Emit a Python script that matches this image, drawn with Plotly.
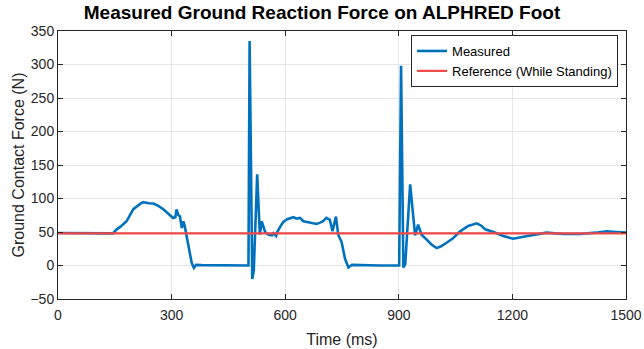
import plotly.graph_objects as go

time_ms = [0, 50, 100, 145, 155, 165, 181, 199, 217, 225, 240, 252, 265, 278, 290, 304,
           310, 313, 318, 322, 327, 331, 335, 340, 353, 359, 365, 380, 450, 503,
           506, 513, 517, 526, 533, 538, 547, 556, 565, 569, 576, 579, 587, 595, 605,
           613, 622, 630, 639, 648, 657, 665, 675, 683, 692, 700, 709, 718, 725, 734,
           740, 749, 758, 767, 776, 800, 850, 901, 906, 912, 917, 930, 943, 951, 960,
           973, 987, 1000, 1013, 1026, 1044, 1062, 1083, 1106, 1119, 1128, 1150, 1176,
           1202, 1229, 1264, 1290, 1334, 1378, 1420, 1449, 1475, 1500]
force_n = [48.5, 48, 47.5, 48, 54, 58, 66, 84, 92, 94.5, 93, 92.5, 89, 84, 78, 71,
           72, 83.6, 75, 73.6, 56, 66, 58, 44, 4, -3.5, 1, 0.5, 0, 0,
           335, -20, -8, 136, 46, 66, 50, 46, 45, 48, 44, 50, 58, 65, 69,
           70, 72, 70, 71, 66, 65, 64, 63, 62, 64, 66, 71, 68, 51, 73,
           46, 35, 10, -3, 1, 0.5, 0, 0, 298, -3, 2, 121, 45, 61, 46,
           39, 31, 26, 29, 34, 41, 51, 59, 63, 59, 54, 50, 44,
           40, 43, 46, 49, 47, 47, 49, 51, 50, 49]
reference_time = [0, 1500]
reference_force = [48, 48]

FONT = "Liberation Sans, Arial, sans-serif"

fig = go.Figure()
fig.add_trace(go.Scatter(x=time_ms, y=force_n, mode="lines", name="Measured",
                         line=dict(color="#0072BD", width=2.6)))
fig.add_trace(go.Scatter(x=reference_time, y=reference_force, mode="lines",
                         name="Reference (While Standing)",
                         line=dict(color="#F04848", width=2.2)))

axis_common = dict(showline=True, linecolor="#262626", linewidth=1, mirror="ticks",
                   ticks="inside", ticklen=5, tickcolor="#262626", automargin=False,
                   showgrid=True, gridcolor="#E6E6E6", gridwidth=1, zeroline=False,
                   tickfont=dict(family=FONT, size=14, color="#262626"))

fig.update_layout(
    width=644, height=349,
    margin=dict(l=58, r=18, t=31, b=50),
    paper_bgcolor="white", plot_bgcolor="white",
    title=dict(text="<b>Measured Ground Reaction Force on ALPHRED Foot</b>",
               x=0.5, xanchor="center", y=0.965, yanchor="middle", automargin=False,
               font=dict(family=FONT, size=19, color="black")),
    xaxis=dict(range=[0, 1500], tickvals=[0, 300, 600, 900, 1200, 1500],
               ticklabelstandoff=3,
               title=dict(text="Time (ms)", standoff=12,
                          font=dict(family=FONT, size=16, color="#262626")),
               **axis_common),
    yaxis=dict(range=[-50, 350], tickvals=[-50, 0, 50, 100, 150, 200, 250, 300, 350],
               title=dict(text="Ground Contact Force (N)", standoff=1,
                          font=dict(family=FONT, size=16, color="#262626")),
               **axis_common),
    legend=dict(x=0.986, y=0.985, xanchor="right", yanchor="top",
                bgcolor="white", bordercolor="#262626", borderwidth=1,
                itemwidth=30, tracegroupgap=0,
                font=dict(family=FONT, size=13, color="black")),
    showlegend=True,
)

fig.write_html("out.html", config={"displayModeBar": False},
               post_script="document.body.style.margin='0';document.body.style.overflow='hidden';")
